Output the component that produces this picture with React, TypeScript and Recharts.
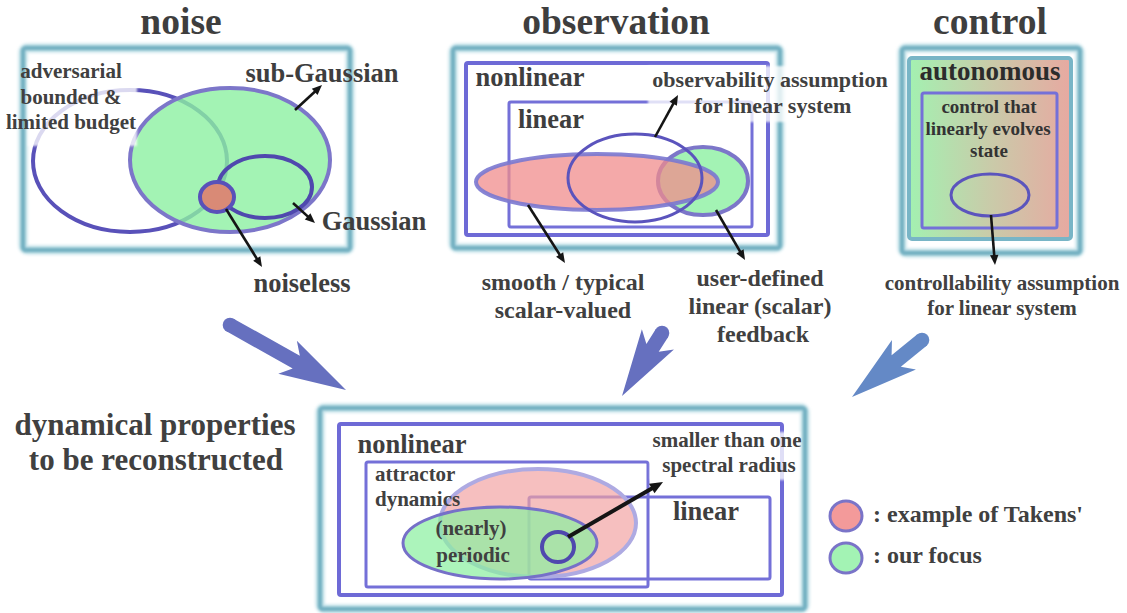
import React from 'react';
import { ComposedChart, XAxis, YAxis, Scatter } from 'recharts';

const WIDTH = 1127;
const HEIGHT = 613;
const X_DOMAIN: [number, number] = [0, 1127];
const Y_DOMAIN: [number, number] = [0, 613];

// ---- diagram data (coordinates in the diagram's own x/y space) ----
const frames = [
  { x: 23, y: 48, x2: 350, y2: 250 },
  { x: 453, y: 48, x2: 780, y2: 248 },
  { x: 902, y: 48, x2: 1080, y2: 253 },
  { x: 320, y: 408, x2: 805, y2: 609 },
];

const panels = [{ x: 909, y: 58, x2: 1071, y2: 239 }];

const rects = [
  { x: 466, y: 63, x2: 768, y2: 235, kind: 'outer' },
  { x: 509, y: 102, x2: 752, y2: 227, kind: 'inner' },
  { x: 922, y: 93, x2: 1057, y2: 228, kind: 'inner' },
  { x: 339, y: 424, x2: 782, y2: 595, kind: 'outer' },
  { x: 366, y: 462, x2: 648, y2: 587, kind: 'inner' },
  { x: 529, y: 497, x2: 770, y2: 579, kind: 'inner' },
];

const ellipses = [
  { x: 130, y: 161, rx: 97, ry: 71, kind: 'ring' },
  { x: 230, y: 160, rx: 100, ry: 72, kind: 'green' },
  { x: 265, y: 187, rx: 47, ry: 31, kind: 'ringDark' },
  { x: 217, y: 197, rx: 17, ry: 15, kind: 'redDot' },
  { x: 703, y: 181, rx: 45, ry: 34, kind: 'green' },
  { x: 597, y: 182, rx: 121, ry: 28, kind: 'red' },
  { x: 635, y: 178, rx: 67, ry: 44, kind: 'ringThin' },
  { x: 990, y: 195, rx: 39, ry: 21, kind: 'ringThin' },
  { x: 538, y: 523, rx: 98, ry: 54, kind: 'pink' },
  { x: 500, y: 543, rx: 97, ry: 36, kind: 'greenSoft' },
  { x: 558, y: 547, rx: 16, ry: 15, kind: 'ringDark' },
  { x: 846, y: 516, rx: 16, ry: 15, kind: 'legendRed' },
  { x: 846, y: 558, rx: 16, ry: 15, kind: 'legendGreen' },
];

const veils = [
  { x: 28, y: 62, x2: 137, y2: 146 },
  { x: 648, y: 66, x2: 895, y2: 122 },
  { x: 650, y: 432, x2: 800, y2: 480 },
];

const pointers = [
  { x: 295, y: 110, x2: 322, y2: 85, kind: 'thin' },
  { x: 293, y: 203, x2: 315, y2: 223, kind: 'thin' },
  { x: 226, y: 209, x2: 262, y2: 267, kind: 'thin' },
  { x: 655, y: 137, x2: 678, y2: 95, kind: 'thin' },
  { x: 528, y: 205, x2: 565, y2: 263, kind: 'thin' },
  { x: 716, y: 210, x2: 745, y2: 260, kind: 'thin' },
  { x: 991, y: 215, x2: 995, y2: 265, kind: 'thin' },
  { x: 568, y: 537, x2: 663, y2: 482, kind: 'thick' },
];

const bigArrows = [
  { x: 230, y: 325, x2: 346, y2: 390, kind: 'violet' },
  { x: 662, y: 333, x2: 622, y2: 396, kind: 'violet' },
  { x: 922, y: 340, x2: 852, y2: 397, kind: 'blue' },
];

const labels = [
  { x: 181, y: 33.5, text: 'noise', role: 'title', anchor: 'middle' },
  { x: 616, y: 33.5, text: 'observation', role: 'title', anchor: 'middle' },
  { x: 990, y: 33.5, text: 'control', role: 'title', anchor: 'middle' },
  { x: 155, y: 435, text: 'dynamical properties', role: 'heading', anchor: 'middle' },
  { x: 156, y: 470, text: 'to be reconstructed', role: 'heading', anchor: 'middle' },
  { x: 322, y: 82, text: 'sub-Gaussian', role: 'region', anchor: 'middle' },
  { x: 374, y: 230, text: 'Gaussian', role: 'region', anchor: 'middle' },
  { x: 302, y: 292, text: 'noiseless', role: 'region', anchor: 'middle' },
  { x: 71, y: 78, text: 'adversarial', role: 'small', anchor: 'middle' },
  { x: 71, y: 104, text: 'bounded &', role: 'small', anchor: 'middle' },
  { x: 71, y: 129, text: 'limited budget', role: 'small', anchor: 'middle' },
  { x: 530, y: 86, text: 'nonlinear', role: 'region', anchor: 'middle' },
  { x: 551, y: 128, text: 'linear', role: 'region', anchor: 'middle' },
  { x: 770, y: 87, text: 'observability assumption', role: 'obs', anchor: 'middle' },
  { x: 773, y: 113, text: 'for linear system', role: 'obs', anchor: 'middle' },
  { x: 563, y: 290, text: 'smooth / typical', role: 'note', anchor: 'middle' },
  { x: 563, y: 318, text: 'scalar-valued', role: 'note', anchor: 'middle' },
  { x: 760, y: 286, text: 'user-defined', role: 'note', anchor: 'middle' },
  { x: 760, y: 314, text: 'linear (scalar)', role: 'note', anchor: 'middle' },
  { x: 763, y: 342, text: 'feedback', role: 'note', anchor: 'middle' },
  { x: 990, y: 80, text: 'autonomous', role: 'regionDark', anchor: 'middle' },
  { x: 989, y: 113, text: 'control that', role: 'tiny', anchor: 'middle' },
  { x: 988, y: 135, text: 'linearly evolves', role: 'tiny', anchor: 'middle' },
  { x: 989, y: 157, text: 'state', role: 'tiny', anchor: 'middle' },
  { x: 1002, y: 290, text: 'controllability assumption', role: 'small', anchor: 'middle' },
  { x: 1002, y: 315, text: 'for linear system', role: 'small', anchor: 'middle' },
  { x: 412, y: 453, text: 'nonlinear', role: 'region', anchor: 'middle' },
  { x: 706, y: 520, text: 'linear', role: 'region', anchor: 'middle' },
  { x: 375, y: 481, text: 'attractor', role: 'small', anchor: 'start' },
  { x: 375, y: 506, text: 'dynamics', role: 'small', anchor: 'start' },
  { x: 471, y: 535, text: '(nearly)', role: 'small', anchor: 'middle' },
  { x: 473, y: 562, text: 'periodic', role: 'small', anchor: 'middle' },
  { x: 727, y: 447, text: 'smaller than one', role: 'small', anchor: 'middle' },
  { x: 729, y: 472, text: 'spectral radius', role: 'small', anchor: 'middle' },
  { x: 873, y: 522, text: ": example of Takens'", role: 'note', anchor: 'start' },
  { x: 873, y: 563, text: ': our focus', role: 'note', anchor: 'start' },
];

// ---- styles ----
const FONT = '"Liberation Serif", "Times New Roman", serif';
const textStyles: Record<string, { size: number; color: string }> = {
  title: { size: 37.5, color: '#3e3e3e' },
  heading: { size: 31, color: '#404040' },
  region: { size: 26.5, color: '#3e3e3e' },
  regionDark: { size: 27, color: '#2c2c2c' },
  note: { size: 24, color: '#404040' },
  obs: { size: 22, color: '#404040' },
  small: { size: 21, color: '#404040' },
  tiny: { size: 19, color: '#333333' },
};

const ellipseStyles: Record<string, any> = {
  ring: { fill: 'none', stroke: '#5951b9', strokeWidth: 4 },
  ringDark: { fill: 'none', stroke: '#4f48ae', strokeWidth: 4 },
  ringThin: { fill: 'none', stroke: '#5b54bd', strokeWidth: 3 },
  green: { fill: '#8cf0a1', fillOpacity: 0.8, stroke: '#7c76c9', strokeWidth: 4 },
  greenSoft: { fill: '#8cf0a1', fillOpacity: 0.72, stroke: '#7670c8', strokeWidth: 3 },
  red: { fill: '#f08c8c', fillOpacity: 0.75, stroke: '#7a78d0', strokeOpacity: 0.9, strokeWidth: 4 },
  redDot: { fill: '#d98a76', stroke: '#5951b9', strokeWidth: 4 },
  pink: { fill: '#f2a0a0', fillOpacity: 0.68, stroke: '#aeaae2', strokeWidth: 4 },
  legendRed: { fill: '#f39a9a', stroke: '#7a74c8', strokeWidth: 3 },
  legendGreen: { fill: '#a3f3b4', stroke: '#7a74c8', strokeWidth: 3 },
};

const rectStyles: Record<string, any> = {
  outer: { stroke: '#6e6ad6', strokeWidth: 4 },
  inner: { stroke: '#7470d8', strokeWidth: 3 },
};

const arrowColors: Record<string, string> = { violet: '#6670bf', blue: '#6489c6' };

// pixels per diagram unit (the axes map the domain onto the full chart box)
const KX = WIDTH / (X_DOMAIN[1] - X_DOMAIN[0]);
const KY = HEIGHT / (Y_DOMAIN[1] - Y_DOMAIN[0]);

const FrameShape = (p: any) => {
  const { cx, cy, payload } = p;
  const w = (payload.x2 - payload.x) * KX;
  const h = (payload.y2 - payload.y) * KY;
  return (
    <g>
      <rect x={cx} y={cy} width={w} height={h} rx={4} fill="none" stroke="#c4e2e9" strokeWidth={9} filter="url(#softWide)" />
      <rect x={cx} y={cy} width={w} height={h} rx={3} fill="none" stroke="#74b1c2" strokeWidth={4.5} filter="url(#soft)" />
    </g>
  );
};

const PanelShape = (p: any) => {
  const { cx, cy, payload } = p;
  const w = (payload.x2 - payload.x) * KX;
  const h = (payload.y2 - payload.y) * KY;
  return <rect x={cx} y={cy} width={w} height={h} rx={3} fill="url(#autoGrad)" stroke="#78b5c6" strokeWidth={4} />;
};

const RectShape = (p: any) => {
  const { cx, cy, payload } = p;
  const w = (payload.x2 - payload.x) * KX;
  const h = (payload.y2 - payload.y) * KY;
  const s = rectStyles[payload.kind];
  return <rect x={cx} y={cy} width={w} height={h} rx={2} fill="none" {...s} />;
};

const VeilShape = (p: any) => {
  const { cx, cy, payload } = p;
  const w = (payload.x2 - payload.x) * KX;
  const h = (payload.y2 - payload.y) * KY;
  return <rect x={cx} y={cy} width={w} height={h} fill="#ffffff" fillOpacity={0.78} filter="url(#soft)" />;
};

const EllipseShape = (p: any) => {
  const { cx, cy, payload } = p;
  const s = ellipseStyles[payload.kind];
  return <ellipse cx={cx} cy={cy} rx={payload.rx * KX} ry={payload.ry * KY} {...s} />;
};

const PointerShape = (p: any) => {
  const { cx, cy, payload } = p;
  const tx = cx + (payload.x2 - payload.x) * KX;
  const ty = cy + (payload.y2 - payload.y) * KY;
  const dx = tx - cx;
  const dy = ty - cy;
  const len = Math.sqrt(dx * dx + dy * dy);
  const ux = dx / len;
  const uy = dy / len;
  const nx = -uy;
  const ny = ux;
  const thick = payload.kind === 'thick';
  const hl = thick ? 13 : 10;
  const hw = thick ? 5.5 : 4.2;
  const bx = tx - ux * hl;
  const by = ty - uy * hl;
  return (
    <g>
      <line x1={cx} y1={cy} x2={bx + ux * 2} y2={by + uy * 2} stroke="#151515" strokeWidth={thick ? 4 : 2.6} />
      <polygon points={`${tx},${ty} ${bx + nx * hw},${by + ny * hw} ${bx - nx * hw},${by - ny * hw}`} fill="#151515" />
    </g>
  );
};

const BigArrowShape = (p: any) => {
  const { cx, cy, payload } = p;
  const tx = cx + (payload.x2 - payload.x) * KX;
  const ty = cy + (payload.y2 - payload.y) * KY;
  const dx = tx - cx;
  const dy = ty - cy;
  const len = Math.sqrt(dx * dx + dy * dy);
  const ux = dx / len;
  const uy = dy / len;
  const nx = -uy;
  const ny = ux;
  const headLen = 67;
  const headHalf = 19;
  const notch = 10;
  const sw = 7.3;
  const bx = tx - ux * headLen;
  const by = ty - uy * headLen;
  const mx = bx + ux * notch;
  const my = by + uy * notch;
  const pts = [
    [cx + nx * sw, cy + ny * sw],
    [mx + nx * sw, my + ny * sw],
    [bx + nx * headHalf, by + ny * headHalf],
    [tx, ty],
    [bx - nx * headHalf, by - ny * headHalf],
    [mx - nx * sw, my - ny * sw],
    [cx - nx * sw, cy - ny * sw],
  ]
    .map((q) => `${q[0]},${q[1]}`)
    .join(' ');
  const c = arrowColors[payload.kind];
  return (
    <g>
      <circle cx={cx} cy={cy} r={sw} fill={c} />
      <polygon points={pts} fill={c} />
    </g>
  );
};

const LabelShape = (p: any) => {
  const { cx, cy, payload } = p;
  const s = textStyles[payload.role];
  return (
    <text
      x={cx}
      y={cy}
      textAnchor={payload.anchor}
      fontFamily={FONT}
      fontWeight="bold"
      fontSize={s.size}
      fill={s.color}
    >
      {payload.text}
    </text>
  );
};

export default function App() {
  return (
    <div style={{ position: 'absolute', left: 0, top: 0, width: WIDTH, height: HEIGHT, background: '#ffffff' }}>
      <ComposedChart width={WIDTH} height={HEIGHT} margin={{ top: 0, right: 0, bottom: 0, left: 0 }}>
        <defs>
          <linearGradient id="autoGrad" x1="0" y1="0" x2="1" y2="0">
            <stop offset="0%" stopColor="#a3f1b1" />
            <stop offset="50%" stopColor="#c9cba9" />
            <stop offset="100%" stopColor="#e7a9a1" />
          </linearGradient>
          <filter id="soft" x="-5%" y="-5%" width="110%" height="110%">
            <feGaussianBlur stdDeviation="0.9" />
          </filter>
          <filter id="softWide" x="-5%" y="-5%" width="110%" height="110%">
            <feGaussianBlur stdDeviation="1.8" />
          </filter>
        </defs>
        <XAxis type="number" dataKey="x" domain={X_DOMAIN} hide allowDataOverflow />
        <YAxis type="number" dataKey="y" domain={Y_DOMAIN} reversed hide allowDataOverflow />
        <Scatter data={frames} shape={FrameShape} isAnimationActive={false} />
        <Scatter data={panels} shape={PanelShape} isAnimationActive={false} />
        <Scatter data={rects} shape={RectShape} isAnimationActive={false} />
        <Scatter data={ellipses} shape={EllipseShape} isAnimationActive={false} />
        <Scatter data={veils} shape={VeilShape} isAnimationActive={false} />
        <Scatter data={bigArrows} shape={BigArrowShape} isAnimationActive={false} />
        <Scatter data={pointers} shape={PointerShape} isAnimationActive={false} />
        <Scatter data={labels} shape={LabelShape} isAnimationActive={false} />
      </ComposedChart>
    </div>
  );
}
